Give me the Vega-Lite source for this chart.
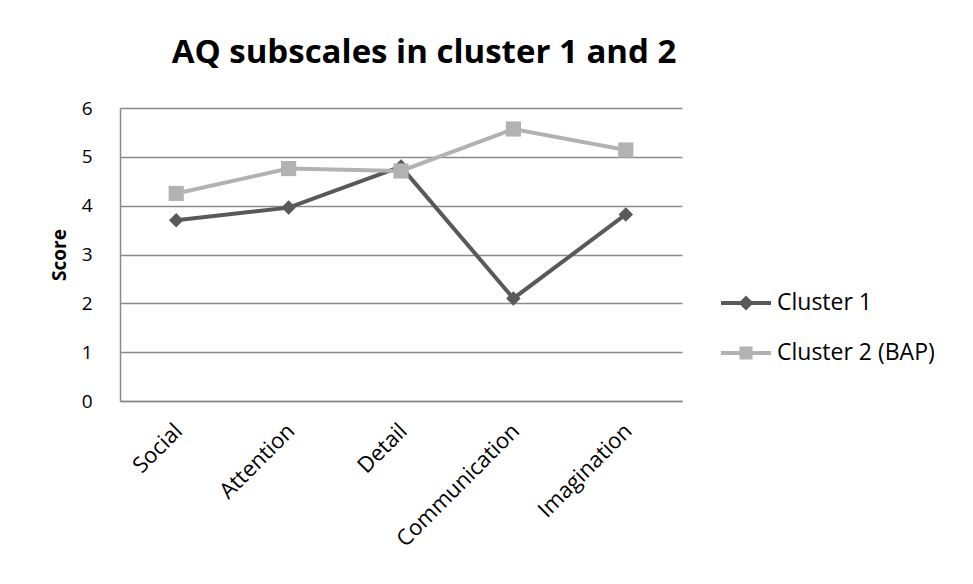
{
  "$schema": "https://vega.github.io/schema/vega-lite/v6.json",
  "width": 562,
  "height": 293,
  "autosize": {"type": "none"},
  "padding": {"left": 120, "top": 108, "right": 291, "bottom": 183},
  "background": "white",
  "title": {
    "text": "AQ subscales in cluster 1 and 2",
    "font": "Open Sans",
    "fontSize": 33,
    "fontWeight": "bold",
    "color": "black",
    "anchor": "middle",
    "frame": "group",
    "dx": 23,
    "baseline": "alphabetic",
    "offset": 3
  },
  "config": {
    "view": {"stroke": null},
    "font": "Open Sans",
    "axis": {
      "labelFont": "Open Sans",
      "labelColor": "black",
      "domainColor": "#8a8a8a",
      "domainWidth": 1.5,
      "gridColor": "#8a8a8a",
      "gridWidth": 1.3,
      "ticks": false
    },
    "legend": {
      "labelFont": "Open Sans",
      "labelFontSize": 23,
      "labelColor": "black",
      "symbolOpacity": 1,
      "symbolStrokeWidth": 0,
      "symbolSize": 2500,
      "rowPadding": 13,
      "labelOffset": 6,
      "padding": 0
    }
  },
  "data": {
    "values": [
      {"subscale": "Social", "cluster": "Cluster 1", "score": 3.7},
      {"subscale": "Attention", "cluster": "Cluster 1", "score": 3.96},
      {"subscale": "Detail", "cluster": "Cluster 1", "score": 4.8},
      {"subscale": "Communication", "cluster": "Cluster 1", "score": 2.1},
      {"subscale": "Imagination", "cluster": "Cluster 1", "score": 3.82},
      {"subscale": "Social", "cluster": "Cluster 2 (BAP)", "score": 4.25},
      {"subscale": "Attention", "cluster": "Cluster 2 (BAP)", "score": 4.76},
      {"subscale": "Detail", "cluster": "Cluster 2 (BAP)", "score": 4.71},
      {"subscale": "Communication", "cluster": "Cluster 2 (BAP)", "score": 5.57},
      {"subscale": "Imagination", "cluster": "Cluster 2 (BAP)", "score": 5.14}
    ]
  },
  "encoding": {
    "x": {
      "field": "subscale",
      "type": "nominal",
      "sort": ["Social", "Attention", "Detail", "Communication", "Imagination"],
      "axis": {
        "title": null,
        "labelFontSize": 22,
        "labelAngle": -45,
        "labelAlign": "right",
        "labelBaseline": "middle",
        "labelPadding": 26,
        "labelOffset": 2,
        "grid": false
      }
    },
    "y": {
      "field": "score",
      "type": "quantitative",
      "scale": {"domain": [0, 6]},
      "axis": {
        "values": [0, 1, 2, 3, 4, 5, 6],
        "labelFontSize": 19,
        "title": "Score",
        "titleFont": "Open Sans",
        "titleFontSize": 19,
        "titleFontWeight": "bold",
        "titleColor": "black",
        "titlePadding": 12,
        "labelPadding": 28,
        "grid": true
      }
    }
  },
  "layer": [
    {
      "mark": {"type": "line", "strokeWidth": 4},
      "encoding": {
        "color": {
          "field": "cluster",
          "type": "nominal",
          "scale": {"domain": ["Cluster 1", "Cluster 2 (BAP)"], "range": ["#595959", "#b2b2b2"]},
          "legend": null
        }
      }
    },
    {
      "mark": {"type": "point", "filled": true, "opacity": 1},
      "encoding": {
        "color": {
          "field": "cluster",
          "type": "nominal",
          "scale": {"domain": ["Cluster 1", "Cluster 2 (BAP)"], "range": ["#595959", "#b2b2b2"]},
          "legend": null
        },
        "shape": {
          "field": "cluster",
          "type": "nominal",
          "scale": {"domain": ["Cluster 1", "Cluster 2 (BAP)"], "range": ["diamond", "square"]},
          "legend": null
        },
        "size": {
          "field": "cluster",
          "type": "nominal",
          "scale": {"domain": ["Cluster 1", "Cluster 2 (BAP)"], "range": [210, 230]},
          "legend": null
        }
      }
    },
    {
      "mark": {"type": "point", "filled": true, "opacity": 0, "size": 2500},
      "encoding": {
        "color": {
          "field": "cluster",
          "type": "nominal",
          "scale": {"domain": ["Cluster 1", "Cluster 2 (BAP)"], "range": ["#595959", "#b2b2b2"]},
          "legend": {"title": null, "orient": "none", "legendX": 601, "legendY": 170}
        },
        "shape": {
          "field": "cluster",
          "type": "nominal",
          "scale": {
            "domain": ["Cluster 1", "Cluster 2 (BAP)"],
            "range": [
              "M-1,-0.08H1V0.08H-1Z M0,-0.3L0.3,0L0,0.3L-0.3,0Z",
              "M-1,-0.08H1V0.08H-1Z M-0.26,-0.26H0.26V0.26H-0.26Z"
            ]
          },
          "legend": {"title": null, "orient": "none", "legendX": 601, "legendY": 170}
        }
      }
    }
  ],
  "resolve": {
    "scale": {"color": "independent", "shape": "independent", "size": "independent"},
    "legend": {"color": "independent", "shape": "independent"}
  }
}
